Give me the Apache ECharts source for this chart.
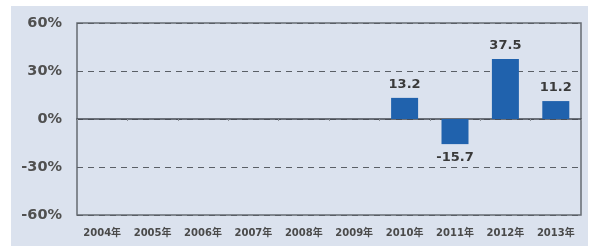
<!DOCTYPE html>
<html><head><meta charset="utf-8">
<script src="https://cdn.jsdelivr.net/npm/echarts@6/dist/echarts.min.js"></script>
<style>html,body{margin:0;padding:0;background:#fff}
#bg{position:absolute;left:11px;top:6px;width:577px;height:240px;background:#dbe2ee}
#c{position:absolute;left:0;top:0;width:595px;height:246px}</style>
</head><body><div id="bg"></div><div id="c"></div>
<script>
const categories = ['2004年','2005年','2006年','2007年','2008年','2009年','2010年','2011年','2012年','2013年'];
const values = [null,null,null,null,null,null,13.2,-15.7,37.5,11.2];
const yTicks = [-60,-30,0,30,60];

const G = {left:77,right:14,top:23,bottom:31};
const chart = echarts.init(document.getElementById('c'), null, {renderer:'canvas'});
chart.setOption({
  backgroundColor:'transparent',
  animation:false,
  grid:[
    Object.assign({show:true,borderColor:'#666b72',borderWidth:1.5,backgroundColor:'transparent'},G),
    Object.assign({show:false},G)
  ],
  xAxis:[{
    type:'category', data:categories, gridIndex:0, position:'bottom',
    axisLine:{show:false,onZero:false}, axisTick:{show:false},
    axisLabel:{interval:0,hideOverlap:false,color:'#4a4a4a',fontSize:10,fontWeight:'bold',fontFamily:'DejaVu Sans, Noto Sans CJK JP',margin:13}
  },{
    type:'category', data:categories, gridIndex:1,
    axisLine:{show:true,onZero:true,lineStyle:{color:'#454a52',width:1.6}},
    axisTick:{show:true,length:2,lineStyle:{color:'#8a8f96'}},
    axisLabel:{show:false}
  }],
  yAxis:[{
    type:'value', gridIndex:0, min:yTicks[0], max:yTicks[yTicks.length-1], interval:30,
    axisLine:{show:false}, axisTick:{show:false},
    axisLabel:{formatter:'{value}%',color:'#505050',fontSize:14.5,fontWeight:'bold',fontFamily:'DejaVu Sans',margin:15},
    splitLine:{show:true,lineStyle:{color:'#5a5f66',type:[6,5],width:1.2}}
  },{
    type:'value', gridIndex:1, min:yTicks[0], max:yTicks[yTicks.length-1], interval:30,
    axisLine:{show:false}, axisTick:{show:false}, axisLabel:{show:false}, splitLine:{show:false}
  }],
  series:[{
    type:'bar', data:values, xAxisIndex:0, yAxisIndex:0, barWidth:27,
    itemStyle:{color:'#2062ad'},
    label:{show:true,position:'outside',color:'#3a3a3a',fontSize:13,fontWeight:'bold',fontFamily:'DejaVu Sans',distance:7,
      formatter:p=>p.value.toFixed(1)}
  }]
});
</script></body></html>
